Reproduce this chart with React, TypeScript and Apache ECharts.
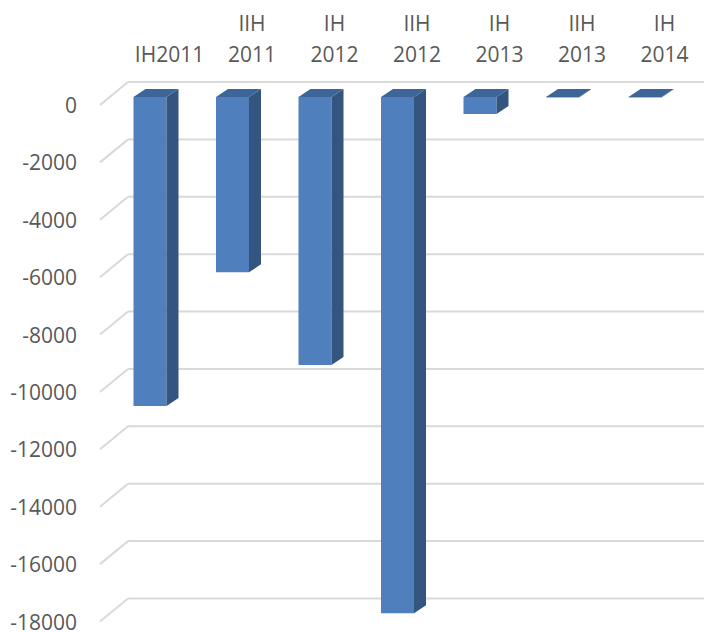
import React, { useEffect, useRef } from "react";
import * as echarts from "echarts";

const categories = ["IH2011", "IIH\n2011", "IH\n2012", "IIH\n2012", "IH\n2013", "IIH\n2013", "IH\n2014"];
const values = [-10770, -6110, -9340, -17990, -590, -15, -15];
const yTicks = [0, -2000, -4000, -6000, -8000, -10000, -12000, -14000, -16000, -18000];

const FRONT = "#4f7fbd";
const SIDE = "#33557f";
const TOP = "#3d6598";
const GRID = "#d9d9d9";
const TEXT = "#595959";
const FONT = "Open Sans";

export default function App() {
  const ref = useRef<HTMLDivElement>(null);
  useEffect(() => {
    const chart = echarts.init(ref.current!, null, { renderer: "svg" });
    const DX = 12;
    const DY = -8;
    chart.setOption({
      animation: false,
      grid: { left: 108.75, right: 17.75, top: 97, bottom: 17 },
      xAxis: {
        type: "category",
        position: "top",
        data: categories,
        axisLine: { show: false },
        axisTick: { show: false },
        axisLabel: {
          color: TEXT,
          fontFamily: FONT,
          fontSize: 21,
          lineHeight: 31,
          margin: 28,
          padding: [0, 0, 0, 39],
          interval: 0,
        },
      },
      yAxis: {
        type: "value",
        min: -18000,
        max: 0,
        interval: 2000,
        axisLine: { show: false },
        axisTick: { show: false },
        splitLine: { show: false },
        axisLabel: {
          color: TEXT,
          fontFamily: FONT,
          fontSize: 21,
          margin: 31.75,
          verticalAlign: "top",
          lineHeight: 16,
          formatter: (v: number) => String(v),
        },
      },
      series: [
        {
          type: "custom",
          z: 1,
          silent: true,
          data: yTicks.map((t) => [0, t]),
          renderItem: (params: any, api: any) => {
            const y = api.coord([0, api.value(1)])[1];
            const cs = params.coordSys;
            const backX = cs.x + 19.25;
            return {
              type: "group",
              children: [
                {
                  type: "polyline",
                  shape: { points: [[backX, y - 15], [704, y - 15]] },
                  style: { stroke: GRID, lineWidth: 2, fill: "none" },
                },
                {
                  type: "line",
                  shape: { x1: cs.x - 8.75, y1: y + 8, x2: backX, y2: y - 15 },
                  style: { stroke: GRID, lineWidth: 2 },
                },
              ],
            };
          },
        },
        {
          type: "custom",
          z: 2,
          data: values.map((v, i) => [i, v]),
          renderItem: (params: any, api: any) => {
            const i = api.value(0);
            const v = api.value(1);
            const p0 = api.coord([i, 0]);
            const p1 = api.coord([i, v]);
            const w = api.size([1, 0])[0] * 0.4;
            const x0 = p0[0] - w / 2;
            const x1 = p0[0] + w / 2;
            const y0 = p0[1];
            const y1 = Math.max(p1[1], y0 + 0.5);
            return {
              type: "group",
              children: [
                {
                  type: "rect",
                  shape: { x: x0, y: y0, width: w, height: y1 - y0 },
                  style: { fill: FRONT },
                },
                {
                  type: "polygon",
                  shape: { points: [[x1, y0], [x1 + DX, y0 + DY], [x1 + DX, y1 + DY], [x1, y1]] },
                  style: { fill: SIDE },
                },
                {
                  type: "polygon",
                  shape: { points: [[x0, y0], [x0 + DX, y0 + DY], [x1 + DX, y0 + DY], [x1, y0]] },
                  style: { fill: TOP },
                },
              ],
            };
          },
        },
      ],
    });
    return () => chart.dispose();
  }, []);
  return (
    <div
      ref={ref}
      style={{ position: "fixed", left: 0, top: 0, width: 704, height: 632, background: "#fff" }}
    />
  );
}
